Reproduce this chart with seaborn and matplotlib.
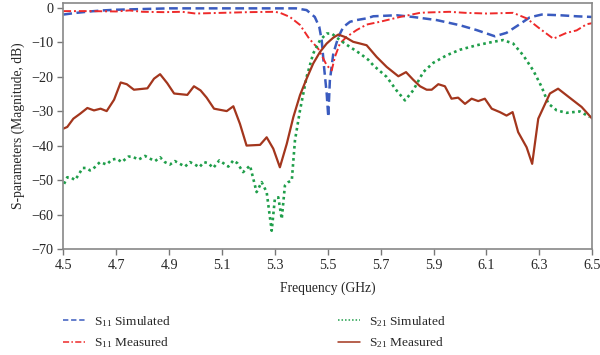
import numpy as np
import pandas as pd
import matplotlib
matplotlib.use("Agg")
import matplotlib.pyplot as plt
import seaborn as sns

# S11 simulated (blue dashed)
s11_sim_f = [4.50, 4.55, 4.60, 4.65, 4.70, 4.80, 4.90, 5.00, 5.10, 5.20, 5.30, 5.38,
             5.42, 5.451, 5.468, 5.477, 5.486, 5.496, 5.502, 5.508, 5.521, 5.540,
             5.559, 5.584, 5.609, 5.647, 5.672, 5.760, 5.823, 5.912, 6.000, 6.063,
             6.132, 6.176, 6.220, 6.264, 6.309, 6.378, 6.441, 6.500]
s11_sim_db = [-2.0, -1.5, -1.1, -0.8, -0.6, -0.4, -0.2, -0.2, -0.2, -0.2, -0.2, -0.2,
              -0.7, -2.7, -5.6, -9.4, -17.2, -24.9, -31.7, -21.1, -13.3, -8.5,
              -5.6, -4.1, -3.6, -3.1, -2.5, -2.2, -2.7, -3.6, -5.1, -6.5,
              -8.3, -7.3, -5.1, -2.8, -2.0, -2.2, -2.5, -2.7]

# S11 measured (red dash-dot)
s11_meas_f = [4.50, 4.60, 4.70, 4.75, 4.80, 4.88, 4.95, 5.00, 5.10, 5.20, 5.30, 5.32,
              5.357, 5.395, 5.43, 5.464, 5.496, 5.515, 5.527, 5.546, 5.571, 5.609,
              5.647, 5.697, 5.773, 5.849, 5.874, 5.96, 6.02, 6.101, 6.201, 6.252,
              6.302, 6.353, 6.403, 6.441, 6.479, 6.500]
s11_meas_db = [-1.0, -1.0, -1.1, -0.8, -1.2, -1.3, -1.2, -1.7, -1.5, -1.3, -1.2, -1.5,
               -2.7, -5.0, -9.0, -11.9, -16.7, -18.2, -14.3, -10.4, -8.5, -6.5,
               -4.9, -4.1, -2.7, -1.5, -1.4, -1.2, -1.5, -1.7, -1.5, -3.1,
               -6.1, -9.0, -7.3, -6.6, -4.8, -4.5]

# S21 simulated (green dotted)
s21_sim_f = [4.503, 4.515, 4.528, 4.544, 4.556, 4.573, 4.588, 4.601, 4.612, 4.624,
             4.639, 4.664, 4.683, 4.702, 4.721, 4.746, 4.762, 4.784, 4.809, 4.828,
             4.847, 4.866, 4.884, 4.903, 4.922, 4.941, 4.960, 4.979, 4.998, 5.014,
             5.032, 5.048, 5.067, 5.090, 5.105, 5.124, 5.143, 5.158, 5.180, 5.206,
             5.231, 5.250, 5.269, 5.288, 5.300, 5.313, 5.326, 5.338, 5.351, 5.364,
             5.376, 5.395, 5.420, 5.445, 5.471, 5.496, 5.515, 5.546, 5.584, 5.622,
             5.653, 5.672, 5.723, 5.760, 5.792, 5.823, 5.861, 5.899, 5.950, 6.000,
             6.063, 6.126, 6.163, 6.201, 6.239, 6.277, 6.309, 6.334, 6.366, 6.403,
             6.453, 6.491]
s21_sim_db = [-51.1, -49.2, -49.2, -50.0, -48.7, -46.5, -46.5, -47.2, -46.9, -45.8,
              -44.8, -45.5, -44.1, -43.8, -44.8, -43.2, -43.2, -44.1, -43.0, -43.8,
              -44.5, -43.4, -44.8, -45.5, -44.5, -45.3, -46.1, -44.8, -45.5, -46.3,
              -44.8, -45.1, -46.5, -44.3, -45.1, -46.1, -44.3, -45.1, -47.7, -45.8,
              -53.5, -50.6, -53.5, -64.7, -55.5, -55.0, -61.3, -51.6, -50.6, -50.1,
              -38.5, -29.8, -20.1, -13.3, -9.4, -7.5, -7.5, -9.4, -11.4, -13.3,
              -15.1, -16.7, -20.1, -24.0, -26.9, -24.0, -18.7, -16.0, -13.8, -12.2,
              -10.9, -9.9, -9.4, -10.4, -13.8, -18.2, -23.0, -27.8, -29.8, -30.5,
              -30.1, -31.7]

# S21 measured (brown solid)
s21_meas_f = [4.500, 4.515, 4.538, 4.563, 4.591, 4.616, 4.641, 4.664, 4.692, 4.717,
              4.740, 4.767, 4.818, 4.843, 4.866, 4.893, 4.919, 4.969, 4.994, 5.019,
              5.042, 5.070, 5.118, 5.143, 5.168, 5.193, 5.244, 5.269, 5.294, 5.319,
              5.345, 5.370, 5.395, 5.420, 5.445, 5.471, 5.496, 5.521, 5.540, 5.565,
              5.596, 5.622, 5.647, 5.685, 5.723, 5.767, 5.796, 5.823, 5.849, 5.874,
              5.893, 5.918, 5.943, 5.968, 5.993, 6.019, 6.044, 6.069, 6.094, 6.120,
              6.151, 6.176, 6.199, 6.220, 6.252, 6.273, 6.296, 6.340, 6.371, 6.428,
              6.460, 6.500]
s21_meas_db = [-35.1, -34.6, -32.2, -30.8, -29.1, -29.8, -29.3, -30.0, -26.7, -21.7,
               -22.2, -23.8, -23.4, -20.6, -19.3, -21.9, -24.9, -25.3, -22.8, -24.0,
               -26.1, -29.3, -30.0, -28.6, -33.7, -40.0, -39.8, -37.6, -40.9, -46.3,
               -39.5, -31.7, -25.4, -20.6, -16.2, -12.8, -10.4, -8.7, -7.8, -8.5,
               -9.9, -10.4, -10.9, -14.3, -17.2, -19.9, -18.7, -20.9, -22.8, -23.8,
               -23.8, -22.2, -22.8, -26.4, -26.1, -27.9, -26.4, -27.1, -26.4, -29.3,
               -30.3, -31.3, -30.3, -36.1, -40.5, -45.3, -32.2, -24.9, -23.5, -26.9,
               -28.8, -32.2]

xticks = [4.5, 4.7, 4.9, 5.1, 5.3, 5.5, 5.7, 5.9, 6.1, 6.3, 6.5]
yticks = [0, -10, -20, -30, -40, -50, -60, -70]

sns.set_style("white")
plt.rcParams['font.family'] = ['Liberation Serif', 'DejaVu Serif']
plt.rcParams['mathtext.fontset'] = 'custom'
plt.rcParams['mathtext.rm'] = 'Liberation Serif'
plt.rcParams['mathtext.it'] = 'Liberation Serif:italic'

fig = plt.figure(figsize=(6, 3.55), dpi=100)
ax = fig.add_axes([0.1055, 0.2986, 0.8815, 0.6934])

series = [
    (s11_sim_f, s11_sim_db, r"S$_{\mathrm{11}}$ Simulated", "#3a5bbf", (0, (3.5, 1.8)), 1.8),
    (s11_meas_f, s11_meas_db, r"S$_{\mathrm{11}}$ Measured", "#ee2a2a", (0, (4, 1.5, 1, 1.5)), 1.4),
    (s21_sim_f, s21_sim_db, r"S$_{\mathrm{21}}$ Simulated", "#1f9e4a", (0, (1, 1.3)), 1.9),
    (s21_meas_f, s21_meas_db, r"S$_{\mathrm{21}}$ Measured", "#a3361d", "-", 1.6),
]

handles = []
for f, db, lab, col, ls, lw in series:
    df = pd.DataFrame({"f": f, "db": db})
    sns.lineplot(data=df, x="f", y="db", ax=ax, color=col, lw=lw, label=lab)
    ax.lines[-1].set_linestyle(ls)
    handles.append(ax.lines[-1])

ax.get_legend().remove()
ax.set_xlim(4.5, 6.5)
ax.set_ylim(-70, 1.4)
ax.set_xticks(xticks)
ax.set_xticklabels([f"{t:.1f}" for t in xticks])
ax.set_yticks(yticks)
ax.set_yticklabels([f"\u2212{-t}" if t < 0 else "0" for t in yticks])
ax.tick_params(axis="both", direction="out", length=4, width=1, color="#777777",
               labelsize=10.2, pad=3, bottom=True, left=True)
for s in ax.spines.values():
    s.set_color("#888888")
    s.set_linewidth(1.2)
ax.set_xlabel("Frequency (GHz)", fontsize=9.8, labelpad=7)
ax.set_ylabel("S-parameters (Magnitude, dB)", fontsize=9.8, labelpad=5)

leg_kw = dict(frameon=False, fontsize=9.6, handlelength=1.65, handletextpad=0.65,
              labelspacing=0.5, borderpad=0, borderaxespad=0, loc="upper left")
top = 1 - 314 / 355
leg1 = fig.legend(handles[:2], [h.get_label() for h in handles[:2]],
                  bbox_to_anchor=(63 / 600, top), **leg_kw)
leg2 = fig.legend(handles[2:], [h.get_label() for h in handles[2:]],
                  bbox_to_anchor=(338 / 600, top), **leg_kw)
for leg in (leg1, leg2):
    for ln in leg.get_lines():
        ln.set_linewidth(1.1)

fig.savefig("out.png", dpi=100)
